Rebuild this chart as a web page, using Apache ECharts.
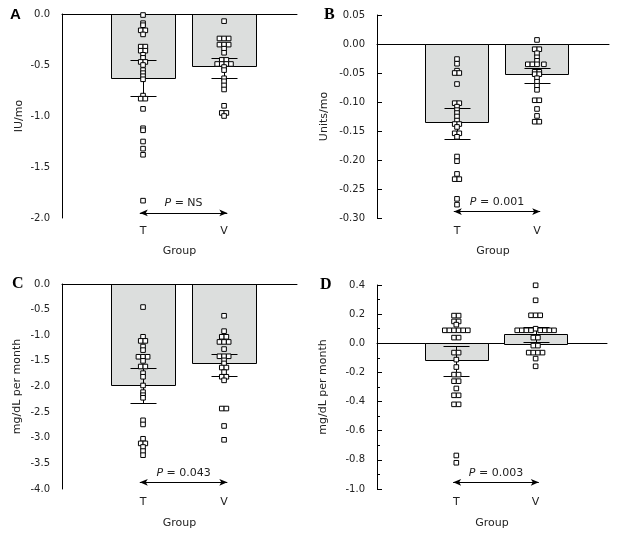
<!DOCTYPE html>
<html>
<head>
<meta charset="utf-8">
<script src="https://cdn.jsdelivr.net/npm/echarts@6/dist/echarts.min.js"></script>
<style>html,body{margin:0;padding:0;background:#fff}#c{width:617px;height:534px}</style>
</head>
<body>
<div id="c"></div>
<script>
// ---------- data ----------
const categories = ['T', 'V'];

// Panel A (IU/mo)
const aMeans = [-0.625, -0.51];
const aErrUpper = [-0.45, -0.43];
const aErrLower = [-0.80, -0.63];
const aPointsT = [[-0.01,0],[-0.09,0],[-0.11,0],[-0.16,-0.5],[-0.16,0.5],[-0.20,0],[-0.32,-0.5],[-0.32,0.5],[-0.36,-0.5],[-0.36,0.5],[-0.40,0],[-0.43,0],[-0.47,-0.5],[-0.47,0.5],[-0.50,0],[-0.55,0],[-0.58,0],[-0.61,0],[-0.64,0],[-0.80,0],[-0.83,-0.5],[-0.83,0.5],[-0.93,0],[-1.12,0],[-1.14,0],[-1.25,0],[-1.32,0],[-1.38,0],[-1.83,0]];
const aPointsV = [[-0.07,0],[-0.24,-1],[-0.24,0],[-0.24,1],[-0.30,-1],[-0.30,0],[-0.30,1],[-0.34,0],[-0.38,0],[-0.45,-0.5],[-0.45,0.5],[-0.49,-1.5],[-0.49,-0.5],[-0.49,0.5],[-0.49,1.5],[-0.52,0],[-0.55,0],[-0.63,0],[-0.66,0],[-0.70,0],[-0.74,0],[-0.90,0],[-0.97,-0.5],[-0.97,0.5],[-1.00,0]];

// Panel B (Units/mo)
const bMeans = [-0.135, -0.052];
const bErrUpper = [-0.111, -0.041];
const bErrLower = [-0.164, -0.068];
const bPointsT = [[-0.026,0],[-0.034,0],[-0.046,0],[-0.050,-0.5],[-0.050,0.5],[-0.069,0],[-0.102,-0.5],[-0.102,0.5],[-0.108,0],[-0.114,0],[-0.119,0],[-0.125,0],[-0.132,0],[-0.138,-0.5],[-0.138,0.5],[-0.143,0],[-0.154,-0.5],[-0.154,0.5],[-0.160,0],[-0.194,0],[-0.202,0],[-0.224,0],[-0.233,-0.5],[-0.233,0.5],[-0.267,0],[-0.277,0]];
const bPointsV = [[0.007,0],[-0.009,-0.5],[-0.009,0.5],[-0.016,0],[-0.023,0],[-0.029,0],[-0.035,-2],[-0.035,-1],[-0.035,0],[-0.035,1.5],[-0.048,-0.5],[-0.048,0.5],[-0.052,-0.5],[-0.052,0.5],[-0.059,0],[-0.065,0],[-0.072,0],[-0.079,0],[-0.097,-0.5],[-0.097,0.5],[-0.112,0],[-0.124,0],[-0.134,-0.5],[-0.134,0.5]];

// Panel C (mg/dL per month)
const cMeans = [-1.98, -1.55];
const cErrUpper = [-1.645, -1.36];
const cErrLower = [-2.33, -1.80];
const cPointsT = [[-0.45,0],[-1.03,0],[-1.11,-0.5],[-1.11,0.5],[-1.22,0],[-1.29,0],[-1.42,-1],[-1.42,0],[-1.42,1],[-1.50,0],[-1.61,-0.5],[-1.61,0.5],[-1.74,0],[-1.81,0],[-1.98,0],[-2.11,0],[-2.17,0],[-2.22,0],[-2.66,0],[-2.74,0],[-3.02,0],[-3.11,-0.5],[-3.11,0.5],[-3.18,0],[-3.26,0],[-3.34,0]];
const cPointsV = [[-0.62,0],[-0.92,0],[-1.03,-0.5],[-1.03,0.5],[-1.13,-1],[-1.13,0],[-1.13,1],[-1.27,0],[-1.41,-1],[-1.41,0],[-1.41,1],[-1.49,0],[-1.55,0],[-1.63,-0.5],[-1.63,0.5],[-1.72,0],[-1.81,-0.5],[-1.81,0.5],[-1.88,0],[-2.43,-0.5],[-2.43,0.5],[-2.77,0],[-3.04,0]];

// Panel D (mg/dL per month)
const dMeans = [-0.117, 0.066];
const dErrUpper = [-0.016, 0.114];
const dErrLower = [-0.227, 0.012];
const dPointsT = [[0.19,-0.5],[0.19,0.5],[0.15,-0.5],[0.15,0.5],[0.128,0],[0.089,-2.5],[0.089,-1.5],[0.089,-0.5],[0.089,0.5],[0.089,1.5],[0.089,2.5],[0.039,-0.5],[0.039,0.5],[-0.064,-0.5],[-0.064,0.5],[-0.112,0],[-0.163,0],[-0.215,-0.5],[-0.215,0.5],[-0.26,-0.5],[-0.26,0.5],[-0.31,0],[-0.357,-0.5],[-0.357,0.5],[-0.419,-0.5],[-0.419,0.5],[-0.77,0],[-0.82,0]];
const dPointsV = [[0.398,0],[0.295,0],[0.192,-1],[0.192,0],[0.192,1],[0.10,0],[0.089,-4],[0.089,-3],[0.089,-2],[0.089,-1],[0.089,1],[0.089,2],[0.089,3],[0.089,4],[0.039,-0.5],[0.039,0.5],[-0.016,-0.5],[-0.016,0.5],[-0.064,-1.5],[-0.064,-0.5],[-0.064,0.5],[-0.064,1.5],[-0.105,0],[-0.158,0]];

// Annotations
const pTexts = ['NS', '0.001', '0.043', '0.003'];
const arrowY = [-1.95, -0.289, -3.87, -0.954];

// ---------- build ----------
const FONT = 'DejaVu Sans';
const panels = [
  {letter:'A', letterFont:'bold 15px "Liberation Sans", Arial, sans-serif', lx:10, ly:7,
   grid:{left:62, top:14, width:235, height:204}, yMin:-2, yMax:0, yInt:0.5, dec:1, yName:'IU/mo', nameGap:37,
   ticks:false, minor:false, zeroLine:true,
   means:aMeans, up:aErrUpper, lo:aErrLower, pts:[aPointsT, aPointsV]},
  {letter:'B', letterFont:'bold 16px "Liberation Serif", "Times New Roman", serif', lx:324, ly:7,
   grid:{left:377, top:15, width:232, height:203}, yMin:-0.30, yMax:0.05, yInt:0.05, dec:2, yName:'Units/mo', nameGap:47,
   ticks:true, minor:false, zeroLine:false,
   means:bMeans, up:bErrUpper, lo:bErrLower, pts:[bPointsT, bPointsV]},
  {letter:'C', letterFont:'bold 16px "Liberation Serif", "Times New Roman", serif', lx:12, ly:276,
   grid:{left:62, top:284, width:235, height:205}, yMin:-4, yMax:0, yInt:0.5, dec:1, yName:'mg/dL per month', nameGap:39,
   ticks:false, minor:false, zeroLine:true,
   means:cMeans, up:cErrUpper, lo:cErrLower, pts:[cPointsT, cPointsV]},
  {letter:'D', letterFont:'bold 16px "Liberation Serif", "Times New Roman", serif', lx:320, ly:277,
   grid:{left:377, top:285, width:230, height:204}, yMin:-1, yMax:0.4, yInt:0.2, dec:1, yName:'mg/dL per month', nameGap:48,
   ticks:true, minor:true, zeroLine:false,
   means:dMeans, up:dErrUpper, lo:dErrLower, pts:[dPointsT, dPointsV]}
];

const BAR_HALF = 0.395;
const BOX = 4.6;
const CAP = 13;

const grids = [], xAxes = [], yAxes = [], series = [], graphics = [];

panels.forEach((p, i) => {
  grids.push(p.grid);
  xAxes.push({
    gridIndex:i, type:'value', min:0, max:2.9, interval:1,
    name:'Group', nameLocation:'middle', nameGap: i < 2 ? 28 : 29,
    nameTextStyle:{fontFamily:FONT, fontSize:11, color:'#222'},
    axisLine:{show:true, lineStyle:{color:'#000', width:1}},
    axisTick:{show:false}, splitLine:{show:false},
    axisLabel:{fontFamily:FONT, fontSize:11, color:'#222', margin:8,
      showMinLabel:true, showMaxLabel:true,
      formatter: v => (Math.abs(v-1) < 1e-9 ? categories[0] : Math.abs(v-2) < 1e-9 ? categories[1] : '')}
  });
  yAxes.push({
    gridIndex:i, type:'value', min:p.yMin, max:p.yMax, interval:p.yInt,
    name:p.yName, nameLocation:'middle', nameGap:p.nameGap, nameRotate:90,
    nameTextStyle:{fontFamily:FONT, fontSize:11, color:'#222'},
    axisLine:{show:true, lineStyle:{color:'#000', width:1}},
    axisTick:{show:p.ticks, inside:true, length:5, lineStyle:{color:'#000'}},
    minorTick:{show:p.minor, splitNumber:2, length:3, lineStyle:{color:'#000'}},
    splitLine:{show:false},
    axisLabel:{fontFamily:FONT, fontSize:10, color:'#222', margin:12,
      formatter: v => { const s = v.toFixed(p.dec); return s === '-0.0' || s === '-0.00' ? s.slice(1) : s; }}
  });

  const barData = p.means.map((m, k) => [k + 1, m]);
  const mlData = [[
    {coord:[0.96, arrowY[i]], symbol:'arrow'},
    {coord:[2.04, arrowY[i]], symbol:'arrow',
     label:{show:true, position:'middle', distance:4,
       formatter:'{it|P} = ' + pTexts[i],
       rich:{it:{fontStyle:'italic', fontFamily:FONT, fontSize:11, color:'#222'}},
       fontFamily:FONT, fontSize:11, color:'#222'}}
  ]];
  const markLine = {
    silent:true, animation:false,
    symbol:['arrow','arrow'], symbolSize:[5, 8],
    lineStyle:{color:'#000', width:1, type:'solid'},
    label:{show:false},
    data: mlData
  };
  series.push({
    type:'custom', xAxisIndex:i, yAxisIndex:i, z:2,
    data: barData,
    renderItem: (params, api) => {
      const x = api.value(0), m = api.value(1);
      const a = api.coord([x - BAR_HALF, 0]);
      const b = api.coord([x + BAR_HALF, m]);
      return {type:'rect',
        shape:{x:Math.round(Math.min(a[0], b[0])) + 0.5, y:Math.round(Math.min(a[1], b[1])) + 0.5,
               width:Math.round(Math.abs(b[0]-a[0])), height:Math.round(Math.abs(b[1]-a[1]))},
        style:{fill:'#dcdedd', stroke:'#000', lineWidth:1}};
    },
    markLine: markLine
  });
  if (p.zeroLine) {
    series.push({
      type:'line', xAxisIndex:i, yAxisIndex:i, data:[], z:3,
      markLine:{silent:true, animation:false, symbol:['none','none'],
        lineStyle:{color:'#000', width:1, type:'solid'}, label:{show:false},
        data:[{yAxis:0}]}
    });
  }
  series.push({
    type:'custom', xAxisIndex:i, yAxisIndex:i, z:3,
    data: p.means.map((m, k) => [k + 1, p.up[k], p.lo[k]]),
    renderItem: (params, api) => {
      const x = api.value(0);
      const t = api.coord([x, api.value(1)]);
      const bt = api.coord([x, api.value(2)]);
      const cx = Math.round(t[0]) + 0.5;
      const ty = Math.round(t[1]) + 0.5, by = Math.round(bt[1]) + 0.5;
      const st = {stroke:'#000', lineWidth:1};
      return {type:'group', children:[
        {type:'line', shape:{x1:cx, y1:ty, x2:cx, y2:by}, style:st},
        {type:'line', shape:{x1:cx-CAP, y1:ty, x2:cx+CAP, y2:ty}, style:st},
        {type:'line', shape:{x1:cx-CAP, y1:by, x2:cx+CAP, y2:by}, style:st}
      ]};
    }
  });
  p.pts.forEach((arr, k) => {
    series.push({
      type:'scatter', xAxisIndex:i, yAxisIndex:i, z:5,
      symbol:'rect', symbolSize:BOX,
      itemStyle:{color:'#fff', borderColor:'#000', borderWidth:1, opacity:1},
      data: arr.map(q => ({value:[k + 1, q[0]], symbolOffset:[q[1] * BOX, 0]})),
      emphasis:{disabled:true}
    });
  });
  graphics.push({type:'text', left:p.lx, top:p.ly,
    style:{text:p.letter, font:p.letterFont, fill:'#000'}});
});

const chart = echarts.init(document.getElementById('c'), null, {renderer:'canvas'});
chart.setOption({
  animation:false,
  backgroundColor:'#fff',
  grid:grids, xAxis:xAxes, yAxis:yAxes, series:series, graphic:graphics
});
</script>
</body>
</html>
